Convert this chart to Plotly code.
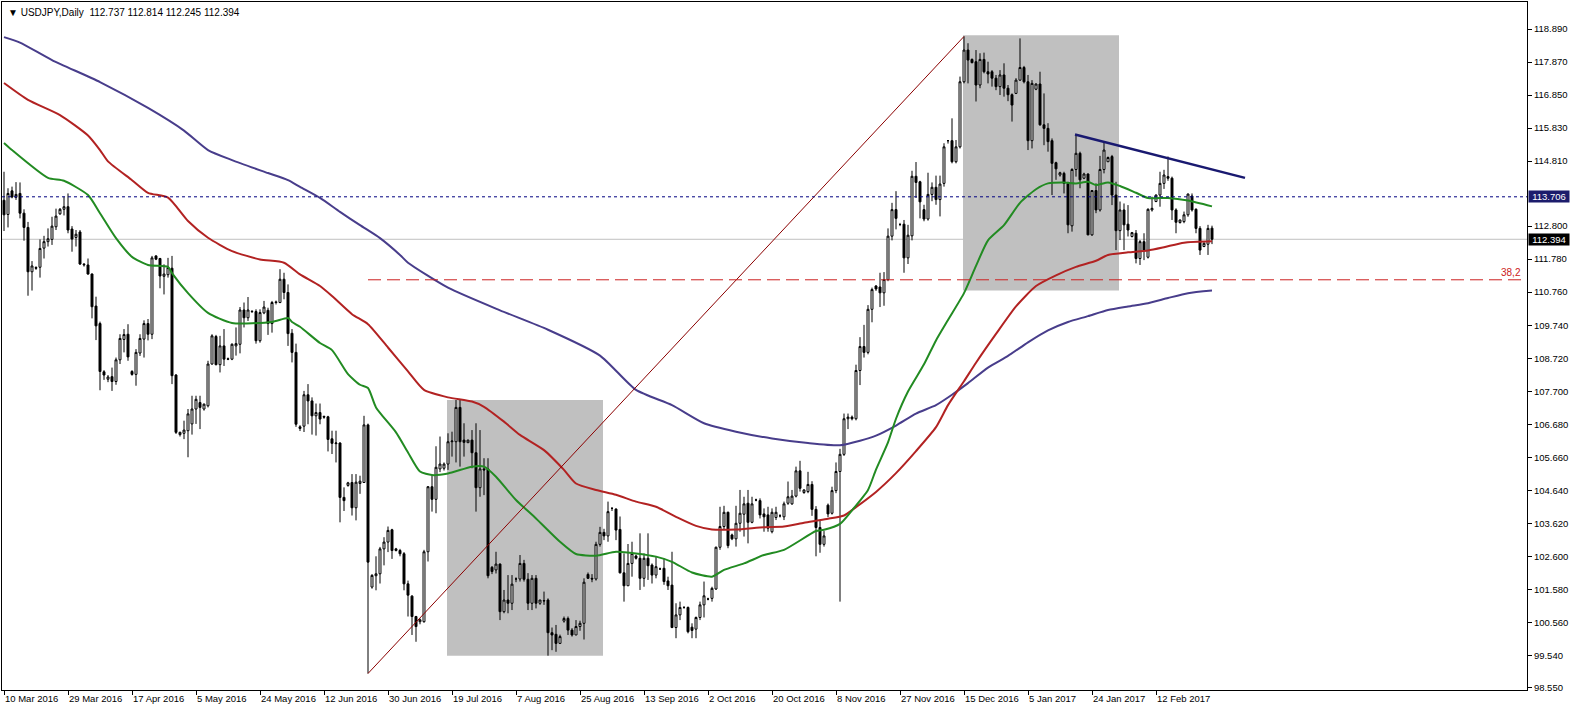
import plotly.graph_objects as go

# ---------------- data ----------------
dates = ["10 Mar 2016", "29 Mar 2016", "17 Apr 2016", "5 May 2016", "24 May 2016", "12 Jun 2016",
         "30 Jun 2016", "19 Jul 2016", "7 Aug 2016", "25 Aug 2016", "13 Sep 2016", "2 Oct 2016",
         "20 Oct 2016", "8 Nov 2016", "27 Nov 2016", "15 Dec 2016", "5 Jan 2017", "24 Jan 2017",
         "12 Feb 2017"]
date_bar = [0, 16, 32, 48, 64, 80, 96, 112, 128, 144, 160, 176, 192, 208, 224, 240, 256, 272, 288]

opens = [113.60, 113.16, 113.89, 113.69, 113.81, 113.20, 112.76, 111.39, 111.52, 111.53,
         112.12, 112.32, 112.39, 112.78, 113.18, 113.32, 113.40, 112.71, 112.45, 112.62,
         111.60, 111.60, 111.32, 110.33, 109.79, 108.30, 108.07, 108.15, 108.00, 108.67,
         109.30, 109.46, 108.31, 108.22, 108.88, 109.31, 109.79, 109.46, 111.88, 111.80,
         111.25, 111.30, 111.50, 108.20, 106.36, 106.40, 106.48, 106.69, 107.15, 107.35,
         107.15, 107.25, 108.54, 109.39, 108.52, 109.10, 108.70, 108.69, 109.10, 109.15,
         110.21, 109.97, 110.17, 110.16, 109.26, 110.12, 110.20, 109.79, 110.46, 110.44,
         111.16, 110.75, 109.49, 108.90, 106.60, 106.62, 107.59, 107.40, 106.94, 107.04,
         106.92, 106.91, 106.23, 106.08, 106.10, 104.42, 104.79, 104.88, 104.10, 104.85,
         104.88, 106.66, 101.65, 102.00, 102.06, 102.83, 103.04, 103.42, 102.78, 102.78,
         102.68, 101.75, 101.37, 100.74, 100.58, 100.58, 102.74, 104.75, 104.36, 105.30,
         105.32, 105.45, 106.14, 106.14, 107.20, 106.19, 106.11, 106.19, 105.80, 104.72,
         105.30, 105.30, 102.26, 102.18, 102.36, 100.89, 101.25, 101.15, 101.90, 101.90,
         102.38, 101.89, 101.15, 101.92, 101.15, 101.22, 101.25, 100.24, 100.19, 99.91,
         100.60, 100.68, 100.32, 100.17, 100.43, 100.53, 102.04, 101.92, 101.90, 102.97,
         103.34, 103.23, 104.08, 104.06, 103.43, 102.09, 101.69, 102.38, 102.61, 102.54,
         101.92, 102.54, 102.33, 102.02, 102.21, 102.23, 101.84, 101.71, 100.40, 100.79,
         101.02, 101.02, 100.41, 100.35, 100.71, 101.10, 101.28, 101.30, 101.59, 102.88,
         103.52, 103.96, 103.26, 103.14, 103.62, 103.90, 104.24, 103.65, 104.34, 104.32,
         103.91, 103.88, 103.36, 103.80, 103.85, 103.82, 104.24, 104.22, 104.46, 105.24,
         104.57, 104.60, 104.82, 104.05, 103.49, 102.97, 104.18, 103.93, 104.63, 105.22,
         105.75, 106.85, 106.90, 106.85, 108.34, 109.08, 108.90, 110.23, 110.95, 110.92,
         110.74, 111.15, 112.49, 113.31, 112.85, 112.86, 111.82, 112.50, 114.34, 114.17,
         113.31, 113.02, 113.78, 114.00, 113.62, 114.12, 115.44, 115.44, 114.79, 115.25,
         117.26, 118.24, 117.95, 117.88, 117.16, 117.95, 117.57, 117.57, 117.37, 117.11,
         117.47, 117.06, 116.86, 116.90, 117.31, 117.70, 117.26, 115.44, 117.03, 117.19,
         115.93, 115.82, 115.44, 114.76, 114.38, 114.43, 114.12, 112.81, 114.55, 115.05,
         114.28, 114.41, 112.53, 113.90, 113.30, 114.55, 114.79, 114.95, 113.76, 112.66,
         113.30, 112.86, 112.48, 112.58, 111.80, 112.32, 111.84, 113.30, 113.56, 113.76,
         114.12, 114.33, 114.28, 113.30, 112.91, 112.94, 113.15, 113.73, 113.32, 112.73,
         112.17, 112.24, 112.737]
highs = [114.48, 113.97, 114.02, 114.16, 114.15, 113.32, 112.93, 111.72, 111.56, 112.39,
         112.50, 112.73, 113.09, 113.34, 113.36, 113.71, 113.81, 112.80, 112.68, 112.68,
         111.66, 111.80, 111.34, 110.62, 109.85, 108.35, 108.20, 108.43, 108.74, 109.46,
         109.62, 109.77, 108.35, 109.00, 109.46, 109.89, 109.93, 111.88, 111.90, 111.82,
         111.62, 111.82, 111.88, 108.23, 106.45, 106.79, 107.15, 107.56, 107.56, 107.56,
         107.32, 108.64, 109.46, 109.44, 109.41, 109.62, 108.74, 109.18, 109.67, 110.30,
         110.44, 110.61, 110.20, 110.23, 110.23, 110.49, 110.28, 110.49, 110.50, 111.47,
         111.36, 111.00, 109.62, 109.17, 106.65, 107.71, 107.92, 107.51, 107.32, 107.32,
         106.95, 106.94, 106.48, 106.48, 106.12, 104.73, 104.90, 105.14, 105.14, 105.09,
         106.94, 106.70, 102.05, 102.60, 102.89, 103.19, 103.52, 103.45, 102.86, 102.83,
         102.73, 101.85, 101.40, 100.76, 100.68, 102.80, 104.77, 105.10, 106.00, 106.30,
         105.50, 106.40, 106.45, 107.43, 107.45, 106.71, 106.20, 106.50, 106.71, 106.50,
         105.63, 105.63, 102.30, 102.74, 102.38, 101.56, 102.02, 102.02, 101.95, 102.64,
         102.49, 102.08, 102.02, 102.02, 101.25, 101.51, 101.30, 100.40, 100.48, 100.18,
         100.74, 100.74, 100.38, 100.63, 100.61, 101.92, 102.10, 102.05, 103.05, 103.51,
         103.45, 104.29, 104.12, 104.08, 103.83, 102.69, 102.98, 103.05, 102.65, 103.31,
         102.69, 103.31, 102.38, 102.59, 102.25, 102.54, 101.97, 102.74, 101.15, 101.20,
         101.06, 101.05, 100.53, 100.74, 101.20, 101.82, 101.32, 101.66, 102.90, 104.13,
         104.16, 103.98, 103.30, 104.16, 104.65, 104.44, 104.65, 104.44, 104.38, 104.39,
         104.08, 104.13, 104.08, 104.13, 103.90, 104.29, 104.91, 104.65, 105.37, 105.55,
         104.67, 105.21, 104.92, 104.15, 103.70, 103.38, 104.23, 104.75, 105.50, 105.92,
         107.01, 107.01, 106.95, 108.52, 109.37, 109.75, 110.36, 110.90, 110.98, 111.36,
         111.38, 112.73, 113.52, 113.88, 112.90, 112.99, 112.84, 114.51, 114.78, 114.20,
         113.46, 114.45, 114.15, 114.36, 114.36, 115.36, 115.46, 116.13, 115.46, 117.42,
         118.66, 118.45, 117.98, 118.24, 118.14, 118.16, 117.88, 117.62, 117.47, 117.62,
         117.83, 117.16, 116.90, 117.37, 118.60, 117.75, 117.47, 117.31, 117.21, 117.57,
         116.90, 115.98, 115.51, 114.79, 114.48, 114.48, 114.17, 114.59, 115.61, 115.10,
         114.45, 114.43, 113.90, 114.12, 114.97, 115.41, 114.95, 115.00, 114.17, 113.56,
         113.50, 113.45, 112.62, 112.68, 112.37, 112.58, 113.35, 113.71, 113.78, 114.48,
         114.54, 114.95, 114.33, 113.35, 113.00, 113.25, 113.81, 113.81, 113.35, 112.80,
         112.30, 112.84, 112.814]
lows = [112.65, 112.76, 113.66, 113.61, 113.04, 112.35, 110.65, 110.81, 111.45, 111.21,
        111.80, 112.17, 112.22, 112.68, 113.15, 113.13, 112.58, 112.01, 112.17, 111.60,
        111.55, 111.30, 109.95, 109.28, 107.73, 108.05, 107.98, 107.71, 107.90, 108.54,
        108.90, 108.64, 108.18, 107.87, 108.79, 108.74, 109.27, 109.31, 111.75, 110.88,
        110.69, 111.21, 107.92, 106.38, 106.30, 106.22, 105.66, 106.36, 106.69, 106.53,
        107.10, 107.20, 108.52, 108.50, 108.28, 108.48, 108.66, 108.66, 108.80, 108.87,
        109.67, 109.87, 110.12, 109.17, 109.20, 110.08, 109.44, 109.51, 110.38, 110.42,
        110.54, 109.10, 108.59, 106.60, 106.47, 106.44, 106.68, 106.36, 106.33, 106.68,
        106.85, 105.84, 105.76, 105.50, 103.65, 104.00, 104.75, 103.86, 103.71, 104.53,
        104.88, 98.98, 101.60, 101.55, 101.76, 102.32, 102.73, 102.52, 102.75, 102.60,
        101.55, 100.74, 100.17, 99.96, 100.50, 100.55, 102.44, 103.98, 103.93, 105.20,
        105.25, 105.27, 105.68, 105.50, 105.37, 105.68, 106.10, 105.32, 103.98, 104.44,
        104.49, 101.92, 102.05, 102.07, 100.63, 100.84, 100.84, 100.94, 101.80, 101.82,
        101.82, 100.94, 100.94, 100.99, 101.10, 101.10, 99.53, 99.70, 99.65, 99.89,
        100.55, 100.17, 100.12, 100.17, 100.30, 100.03, 101.90, 101.80, 101.85, 102.90,
        103.10, 103.05, 104.00, 103.10, 102.07, 101.20, 101.69, 101.97, 102.50, 101.56,
        101.66, 101.87, 101.76, 101.92, 102.18, 101.72, 101.56, 100.38, 100.07, 100.63,
        100.98, 100.22, 100.07, 100.07, 100.63, 100.71, 101.24, 101.20, 101.56, 102.80,
        103.41, 102.85, 103.10, 102.90, 103.36, 103.21, 103.00, 103.62, 104.30, 103.77,
        103.36, 103.36, 103.31, 103.72, 103.80, 103.72, 104.19, 104.19, 104.42, 104.60,
        104.53, 104.55, 103.85, 102.60, 102.71, 102.90, 103.81, 103.89, 104.55, 101.20,
        105.70, 106.53, 106.80, 106.80, 107.89, 108.74, 108.84, 109.83, 110.80, 110.30,
        110.34, 111.10, 112.36, 112.70, 112.80, 111.36, 111.63, 112.36, 113.67, 113.04,
        112.95, 112.97, 113.57, 113.46, 113.10, 114.02, 115.35, 114.74, 114.74, 115.20,
        117.21, 117.21, 117.83, 116.65, 117.06, 117.52, 117.21, 117.11, 117.00, 116.85,
        116.80, 116.66, 116.03, 116.88, 117.29, 117.21, 115.15, 115.20, 117.00, 115.90,
        115.30, 115.10, 113.76, 114.23, 114.33, 113.81, 112.58, 112.63, 114.33, 113.97,
        114.25, 112.52, 112.50, 113.20, 113.25, 114.43, 114.78, 113.45, 112.06, 112.37,
        112.06, 112.48, 112.45, 111.65, 111.60, 111.75, 111.80, 113.25, 113.54, 113.40,
        113.95, 114.20, 112.99, 112.58, 112.88, 112.89, 113.09, 113.25, 112.58, 111.91,
        112.15, 111.91, 112.245]
closes = [113.15, 113.81, 113.70, 113.78, 113.20, 112.76, 111.39, 111.57, 111.50, 112.11,
          112.32, 112.41, 112.80, 113.11, 113.32, 113.40, 112.68, 112.40, 112.55, 111.63,
          111.62, 111.32, 110.31, 109.72, 108.31, 108.20, 108.14, 108.00, 108.67, 109.33,
          109.45, 108.76, 108.22, 108.90, 109.33, 109.79, 109.46, 111.82, 111.78, 111.26,
          111.32, 111.52, 108.18, 106.43, 106.43, 106.50, 107.00, 107.15, 107.45, 107.20,
          107.30, 108.54, 109.41, 108.52, 109.10, 108.69, 108.69, 109.15, 109.17, 110.21,
          109.97, 110.21, 110.16, 109.26, 110.13, 110.30, 109.79, 110.44, 110.44, 111.16,
          110.75, 109.48, 108.90, 106.68, 106.55, 107.59, 107.40, 106.94, 107.04, 106.84,
          106.90, 106.21, 106.09, 106.10, 104.42, 104.32, 104.87, 104.10, 104.89, 104.92,
          106.66, 102.42, 102.01, 102.06, 102.83, 103.04, 103.40, 102.78, 102.83, 102.68,
          101.75, 101.40, 100.74, 100.43, 100.64, 102.74, 104.75, 104.36, 105.35, 105.45,
          105.45, 106.14, 106.16, 107.20, 106.14, 106.12, 106.19, 105.80, 104.72, 105.30,
          105.27, 102.00, 102.13, 102.36, 100.89, 101.25, 101.15, 101.74, 101.90, 102.38,
          101.89, 101.15, 101.92, 101.15, 101.25, 101.23, 100.24, 100.17, 99.91, 100.12,
          100.68, 100.32, 100.17, 100.43, 100.53, 101.80, 101.92, 101.90, 102.97, 103.34,
          103.23, 103.98, 104.08, 103.41, 102.09, 101.69, 102.38, 102.69, 102.54, 101.92,
          102.54, 102.31, 102.02, 102.28, 102.21, 101.82, 101.69, 100.40, 100.79, 101.02,
          101.02, 100.27, 100.31, 100.71, 101.10, 101.38, 101.28, 101.61, 102.88, 103.52,
          103.96, 102.93, 103.14, 103.62, 103.93, 104.22, 103.65, 104.22, 104.34, 103.88,
          103.82, 103.47, 103.96, 103.96, 103.85, 104.22, 104.44, 104.46, 105.24, 104.70,
          104.65, 104.82, 104.05, 103.49, 102.97, 103.23, 103.91, 104.63, 105.22, 105.75,
          106.85, 106.90, 106.85, 108.34, 109.08, 108.90, 110.23, 110.84, 110.86, 110.74,
          111.15, 112.49, 113.31, 113.04, 112.85, 111.82, 112.52, 114.34, 114.15, 113.55,
          113.02, 113.78, 114.00, 113.62, 114.10, 115.25, 115.44, 114.79, 115.25, 117.26,
          118.24, 117.93, 117.85, 117.16, 117.95, 117.57, 117.50, 117.37, 117.11, 117.47,
          117.06, 116.86, 116.54, 117.31, 117.70, 117.26, 115.44, 117.21, 117.19, 115.93,
          115.82, 115.41, 114.74, 114.57, 114.45, 114.12, 112.84, 114.55, 115.05, 114.23,
          114.41, 112.53, 113.90, 113.30, 114.55, 115.15, 114.92, 113.76, 112.66, 113.30,
          112.84, 112.68, 112.60, 111.80, 112.32, 112.05, 113.32, 113.35, 113.76, 114.12,
          114.38, 114.28, 113.30, 112.92, 112.99, 113.15, 113.79, 113.30, 112.73, 112.06,
          112.27, 112.73, 112.394]

# moving averages (bar index, price)
ma_green_bar = [0, 2, 11, 15, 21, 24, 28, 32, 36, 41, 42, 46, 51, 57, 67, 71, 72, 74, 79, 82,
                86, 89, 91, 93, 98, 101, 104, 107, 111, 117, 120, 123, 128, 133, 139, 143, 148,
                153, 158, 163, 167, 172, 177, 180, 185, 190, 195, 203, 205, 209, 212, 216, 218,
                221, 223, 226, 230, 233, 236, 240, 243, 246, 250, 254, 258, 261, 265, 268, 271,
                273, 276, 279, 283, 286, 291, 296, 302]
ma_green_val = [115.37, 115.15, 114.29, 114.20, 113.76, 113.20, 112.43, 111.85, 111.60, 111.54,
                111.35, 110.73, 110.12, 109.81, 109.84, 109.96, 109.84, 109.69, 109.19, 108.97,
                108.23, 107.90, 107.80, 107.20, 106.43, 105.81, 105.22, 105.11, 105.16, 105.37,
                105.37, 105.06, 104.34, 103.77, 103.05, 102.67, 102.62, 102.74, 102.69, 102.59,
                102.43, 102.10, 101.97, 102.18, 102.38, 102.64, 102.80, 103.38, 103.42, 103.60,
                104.02, 104.65, 105.28, 106.12, 106.85, 107.69, 108.53, 109.27, 109.90, 110.73,
                111.57, 112.36, 112.83, 113.52, 113.94, 114.12, 114.15, 114.12, 114.17, 114.07,
                114.15, 114.04, 113.83, 113.67, 113.67, 113.59, 113.41]
ma_red_bar = [0, 6, 14, 21, 24, 26, 32, 36, 41, 46, 51, 57, 64, 70, 74, 79, 82, 87, 91, 96,
              101, 105, 111, 117, 120, 125, 129, 135, 140, 143, 148, 153, 158, 163, 168, 173,
              177, 183, 190, 195, 200, 203, 206, 210, 213, 218, 223, 228, 233, 236, 240, 243,
              248, 253, 258, 263, 268, 273, 276, 281, 286, 290, 295, 302]
ma_red_val = [117.22, 116.70, 116.23, 115.60, 115.15, 114.80, 114.22, 113.83, 113.68, 112.96,
              112.44, 112.03, 111.77, 111.67, 111.31, 110.95, 110.64, 110.08, 109.77, 109.05,
              108.31, 107.74, 107.51, 107.38, 107.22, 106.76, 106.35, 105.88, 105.27, 104.85,
              104.65, 104.50, 104.29, 104.13, 103.82, 103.54, 103.43, 103.43, 103.50, 103.52,
              103.64, 103.70, 103.76, 103.86, 104.12, 104.59, 105.17, 105.85, 106.59, 107.27,
              108.01, 108.58, 109.47, 110.32, 110.95, 111.28, 111.54, 111.73, 111.91, 111.99,
              112.05, 112.15, 112.29, 112.33]
ma_navy_bar = [0, 4, 12, 24, 36, 45, 51, 57, 66, 71, 74, 79, 84, 89, 94, 99, 101, 111, 124,
               136, 149, 158, 167, 175, 183, 192, 201, 209, 214, 218, 223, 228, 233, 237, 241,
               246, 251, 256, 261, 266, 271, 276, 281, 286, 291, 296, 302]
ma_navy_val = [118.64, 118.47, 117.93, 117.25, 116.45, 115.75, 115.15, 114.84, 114.44, 114.22,
               114.01, 113.67, 113.24, 112.83, 112.43, 111.91, 111.67, 110.90, 110.20, 109.60,
               108.80, 107.74, 107.27, 106.71, 106.45, 106.24, 106.10, 106.03, 106.17, 106.33,
               106.64, 107.01, 107.27, 107.59, 107.95, 108.43, 108.79, 109.21, 109.58, 109.84,
               110.02, 110.21, 110.32, 110.42, 110.58, 110.73, 110.81]

y_ticks = [98.55, 99.54, 100.56, 101.58, 102.60, 103.62, 104.64, 105.66, 106.68, 107.70,
           108.72, 109.74, 110.76, 111.78, 112.80, 114.81, 115.83, 116.85, 117.87, 118.89]

# chart objects (bar index / price)
rect1 = dict(x0=110.75, x1=149.75, y0=99.53, y1=107.43)
rect2 = dict(x0=239.75, x1=278.75, y0=110.81, y1=118.70)
fibo_low = (91, 98.98)
fibo_high = (240, 118.66)
fibo_level = 0.382
trend_start = (267.75, 115.63)
trend_end = (310.25, 114.29)
level_line = 113.706
bid_price = 112.394
header = "USDJPY,Daily  112.737 112.814 112.245 112.394"

n_bars = len(opens)
bars = list(range(n_bars))
FONT = "Liberation Sans, Arial, sans-serif"

fig = go.Figure()
fig.add_trace(go.Candlestick(
    x=bars, open=opens, high=highs, low=lows, close=closes,
    increasing=dict(fillcolor="white", line=dict(color="black", width=1)),
    decreasing=dict(fillcolor="black", line=dict(color="black", width=1)),
    whiskerwidth=0, showlegend=False, hoverinfo="skip"))

for bx, vals, col in [(ma_navy_bar, ma_navy_val, "#483d8b"),
                      (ma_red_bar, ma_red_val, "#b22222"),
                      (ma_green_bar, ma_green_val, "#228b22")]:
    fig.add_trace(go.Scatter(x=bx, y=vals, mode="lines",
                             line=dict(color=col, width=2, shape="spline", smoothing=0.6),
                             showlegend=False, hoverinfo="skip"))

shapes = []
for r in (rect1, rect2):
    shapes.append(dict(type="rect", xref="x", yref="y", layer="below",
                       fillcolor="#c0c0c0", line=dict(width=0), **r))
fib_val = fibo_high[1] - fibo_level * (fibo_high[1] - fibo_low[1])
shapes += [
    dict(type="line", xref="x", yref="y", x0=fibo_low[0], y0=fibo_low[1],
         x1=fibo_high[0], y1=fibo_high[1], line=dict(color="#8b0000", width=1)),
    dict(type="line", xref="x", yref="y", x0=fibo_low[0], x1=380.75, y0=fib_val, y1=fib_val,
         line=dict(color="#cc2020", width=1, dash="13px,6px")),
    dict(type="line", xref="paper", yref="y", x0=0, x1=1, y0=level_line, y1=level_line,
         line=dict(color="#000080", width=1, dash="3px,3px")),
    dict(type="line", xref="paper", yref="y", x0=0, x1=1, y0=bid_price, y1=bid_price,
         line=dict(color="#c0c0c0", width=1), layer="below"),
    dict(type="line", xref="x", yref="y", x0=trend_start[0], y0=trend_start[1],
         x1=trend_end[0], y1=trend_end[1], line=dict(color="#191970", width=2.5)),
]

annotations = [
    dict(xref="paper", yref="paper", x=0, y=1, xshift=4, yshift=-3, xanchor="left", yanchor="top",
         text="\u25bc " + header, showarrow=False, font=dict(family=FONT, size=10, color="black")),
    dict(xref="paper", yref="y", x=1, y=fib_val, xshift=-4, yshift=7, xanchor="right",
         yanchor="middle", text="38,2", showarrow=False,
         font=dict(family=FONT, size=10, color="#cc2020")),
    dict(xref="paper", yref="y", x=1, y=level_line, xshift=1, xanchor="left", yanchor="middle",
         text=f"{level_line:.3f}", showarrow=False, bgcolor="#1c1c6c", borderpad=0, width=40,
         height=11, font=dict(family=FONT, size=9.5, color="white")),
    dict(xref="paper", yref="y", x=1, y=bid_price, xshift=1, xanchor="left", yanchor="middle",
         text=f"{bid_price:.3f}", showarrow=False, bgcolor="black", borderpad=0, width=40,
         height=11, font=dict(family=FONT, size=9.5, color="white")),
]

fig.update_layout(
    width=1570, height=712, margin=dict(l=2, r=43, t=2, b=22, autoexpand=False),
    paper_bgcolor="white", plot_bgcolor="white",
    shapes=shapes, annotations=annotations,
    xaxis=dict(range=[-0.5, 380.75], rangeslider=dict(visible=False), showgrid=False,
               zeroline=False, showline=True, linecolor="black", linewidth=1, mirror=True,
               tickmode="array", tickvals=date_bar, ticktext=dates, ticks="outside",
               ticklen=4, tickcolor="black", ticklabelposition="outside right", tickangle=0,
               automargin=False, tickfont=dict(family=FONT, size=9.5, color="black")),
    yaxis=dict(range=[98.47, 119.724], side="right", showgrid=False, zeroline=False,
               showline=True, linecolor="black", linewidth=1, mirror=True,
               tickmode="array", tickvals=y_ticks, ticktext=[f"{v:.3f}" for v in y_ticks],
               ticks="outside", ticklen=4, tickcolor="black", automargin=False,
               tickfont=dict(family=FONT, size=9.5, color="black")),
)

fig.write_html("out.html", config={"displayModeBar": False},
               post_script="document.body.style.margin='0px';"
                           "document.body.style.overflow='hidden';")
